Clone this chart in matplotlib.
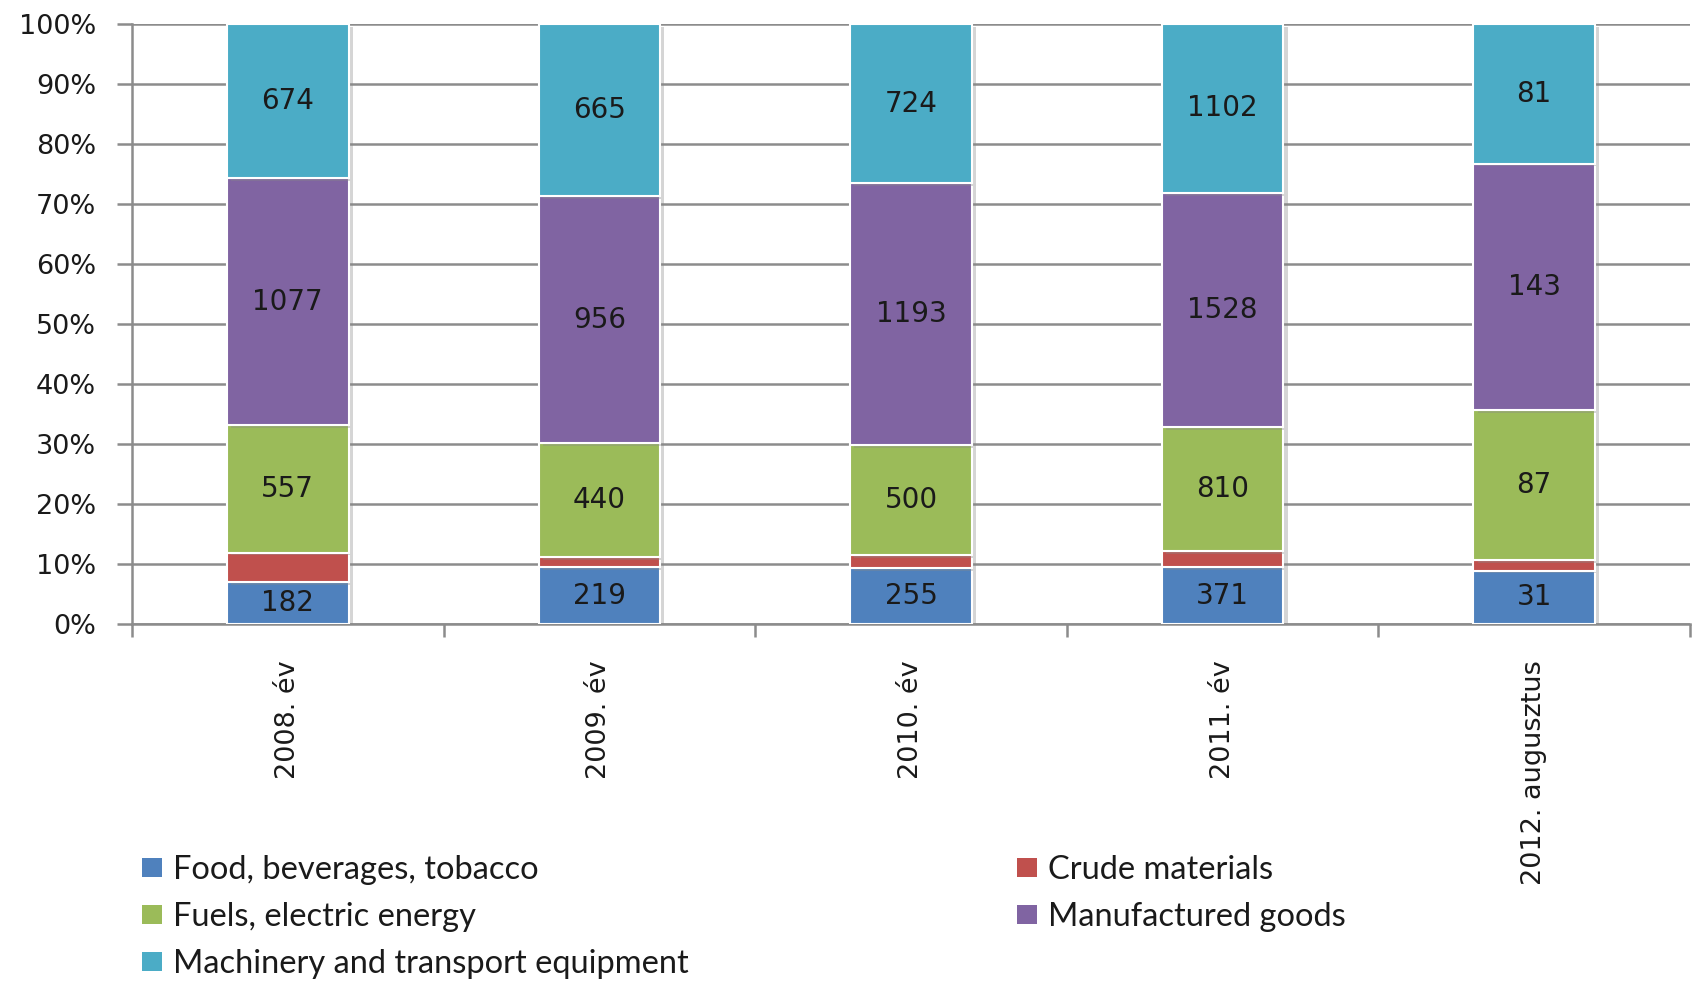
import matplotlib
matplotlib.use("Agg")
import matplotlib.pyplot as plt
import matplotlib.patheffects as pe
import numpy as np
from matplotlib.ticker import FixedLocator, PercentFormatter

categories = ["2008. év", "2009. év", "2010. év", "2011. év", "2012. augusztus"]
food = [182, 219, 255, 371, 31]
crude = [130, 40, 60, 105, 6]
fuels = [557, 440, 500, 810, 87]
manufactured = [1077, 956, 1193, 1528, 143]
machinery = [674, 665, 724, 1102, 81]

series_names = ["Food, beverages, tobacco", "Crude materials", "Fuels, electric energy",
                "Manufactured goods", "Machinery and transport equipment"]
series_values = [food, crude, fuels, manufactured, machinery]
show_labels = [True, False, True, True, True]
colors = ["#4F81BD", "#C0504D", "#9BBB59", "#8064A2", "#4BACC6"]

W, H = 1696, 984
fig = plt.figure(figsize=(W / 100, H / 100), dpi=100)
ax = fig.add_axes([132 / W, (H - 624) / H, (1690 - 132) / W, (624 - 24) / H])

vals = np.array(series_values, dtype=float)
totals = vals.sum(axis=0)
pct = vals / totals * 100
x = np.arange(len(categories))
bottom = np.zeros(len(categories))
handles = []
for i, name in enumerate(series_names):
    bars = ax.bar(x, pct[i], 0.39, bottom=bottom, color=colors[i], edgecolor="white",
                  linewidth=1.5, label=name, zorder=3,
                  path_effects=[pe.SimplePatchShadow(offset=(3, -2), shadow_rgbFace="#888888", alpha=0.35),
                                pe.Normal()])
    handles.append(bars)
    if show_labels[i]:
        for j in range(len(categories)):
            ax.text(x[j], bottom[j] + pct[i][j] / 2, str(series_values[i][j]),
                    ha="center", va="center", fontsize=20, color="#1a1a1a",
                    family="DejaVu Sans", zorder=5)
    bottom += pct[i]

ax.set_xlim(-0.5, len(categories) - 0.5)
ax.set_ylim(0, 100)
ax.yaxis.set_major_locator(FixedLocator(np.arange(0, 101, 10)))
ax.yaxis.set_major_formatter(PercentFormatter(decimals=0))
ax.grid(axis="y", color="#8c8c8c", linewidth=1.8, zorder=0)
ax.set_axisbelow(True)

ax.set_xticks(x)
ax.set_xticklabels(categories, rotation=90, va="top", ha="center")
ax.xaxis.set_minor_locator(FixedLocator(np.arange(-0.5, len(categories), 1.0)))
ax.tick_params(axis="x", which="major", length=0, pad=26, labelsize=19.5, labelcolor="#1a1a1a")
ax.tick_params(axis="x", which="minor", length=9.5, width=1.8, color="#8c8c8c", direction="out")
ax.tick_params(axis="y", which="major", length=11, width=1.8, color="#8c8c8c", pad=15,
               labelsize=19.5, labelcolor="#1a1a1a")

for s in ["top", "right"]:
    ax.spines[s].set_visible(False)
for s in ["left", "bottom"]:
    ax.spines[s].set_color("#8c8c8c")
    ax.spines[s].set_linewidth(1.8)

leg_kw = dict(frameon=False, handlelength=0.62, handleheight=0.52,
              handletextpad=0.32, labelspacing=0.52, borderpad=0, borderaxespad=0,
              prop={"family": "Lato", "size": 23.5})
left_idx = [0, 2, 4]
right_idx = [1, 3]
leg1 = fig.legend([handles[i] for i in left_idx], [series_names[i] for i in left_idx],
                  loc="upper left", bbox_to_anchor=(142 / W, 1 - 855 / H), **leg_kw)
leg2 = fig.legend([handles[i] for i in right_idx], [series_names[i] for i in right_idx],
                  loc="upper left", bbox_to_anchor=(1017 / W, 1 - 855 / H), **leg_kw)
for leg in (leg1, leg2):
    for t in leg.get_texts():
        t.set_color("#1a1a1a")
    for h in leg.legend_handles:
        h.set_path_effects([])
        h.set_edgecolor("none")

fig.savefig("out.png", dpi=100)
